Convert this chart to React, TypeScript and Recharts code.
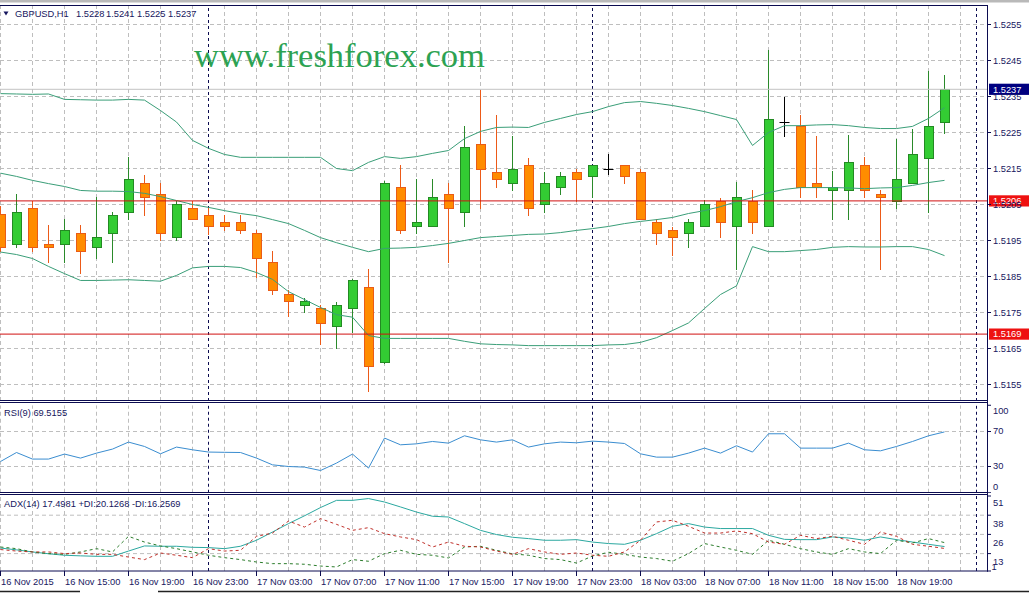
import React from 'react';
import { ComposedChart, Bar, Line, XAxis, YAxis, ReferenceLine } from 'recharts';

// ---------- data (GBPUSD H1, 16 Nov 2015 11:00 .. 18 Nov 2015 22:00) ----------
const OPEN = [1.52024, 1.51941, 1.52041, 1.51941, 1.51941, 1.51971, 1.51933, 1.51971, 1.52030, 1.52110,
  1.52080, 1.51960, 1.52041, 1.52021, 1.52002, 1.52002, 1.51971, 1.51891, 1.51802, 1.51771,
  1.51763, 1.51713, 1.51763, 1.51821, 1.51612, 1.52099, 1.51991, 1.51991, 1.52080, 1.52030,
  1.52219, 1.52141, 1.52110, 1.52160, 1.52052, 1.52099, 1.52141, 1.52130, 1.52148, 1.52160,
  1.52141, 1.52002, 1.51980, 1.51971, 1.51991, 1.52060, 1.51991, 1.52060, 1.51991, 1.52279,
  1.52269, 1.52110, 1.52089, 1.52089, 1.52160, 1.52080, 1.52060, 1.52110, 1.52180, 1.5228];
const HIGH = [1.52047, 1.52080, 1.52059, 1.51992, 1.52010, 1.51992, 1.52071, 1.52028, 1.52181, 1.52131,
  1.52110, 1.52059, 1.52059, 1.52041, 1.52021, 1.52021, 1.51980, 1.51921, 1.51813, 1.51791,
  1.51771, 1.51778, 1.51844, 1.51871, 1.52114, 1.52160, 1.52121, 1.52121, 1.52110, 1.52269,
  1.52369, 1.52299, 1.52241, 1.52180, 1.52141, 1.52141, 1.52149, 1.52160, 1.52191, 1.52160,
  1.52149, 1.52010, 1.51987, 1.52010, 1.52063, 1.52067, 1.52112, 1.52091, 1.52480, 1.52350,
  1.52299, 1.52241, 1.52142, 1.52242, 1.52181, 1.52091, 1.52233, 1.52260, 1.52420, 1.5241];
const LOW = [1.51920, 1.51932, 1.51920, 1.51890, 1.51890, 1.51859, 1.51901, 1.51890, 1.52010, 1.52021,
  1.51952, 1.51952, 1.52010, 1.51969, 1.51980, 1.51971, 1.51850, 1.51802, 1.51741, 1.51752,
  1.51663, 1.51652, 1.51695, 1.51531, 1.51611, 1.51971, 1.51971, 1.51991, 1.51891, 1.51991,
  1.52041, 1.52098, 1.52091, 1.52021, 1.52030, 1.52080, 1.52060, 1.52070, 1.52135, 1.52110,
  1.52010, 1.51941, 1.51909, 1.51933, 1.51991, 1.51959, 1.51871, 1.51971, 1.51991, 1.52240,
  1.52071, 1.52071, 1.52010, 1.52010, 1.52071, 1.51871, 1.52041, 1.52110, 1.52030, 1.5225];
const CLOSE = [1.51932, 1.52030, 1.51932, 1.51932, 1.51980, 1.51921, 1.51960, 1.52021, 1.52121, 1.52072,
  1.51971, 1.52052, 1.52010, 1.51991, 1.51991, 1.51980, 1.51902, 1.51813, 1.51783, 1.51783,
  1.51721, 1.51771, 1.51841, 1.51602, 1.52110, 1.51980, 1.52002, 1.52071, 1.52041, 1.52211,
  1.52149, 1.52121, 1.52149, 1.52041, 1.52110, 1.52130, 1.52121, 1.52160, 1.52148, 1.52130,
  1.52010, 1.51971, 1.51960, 1.52002, 1.52052, 1.52002, 1.52071, 1.52002, 1.52288, 1.52279,
  1.52099, 1.52098, 1.52098, 1.52169, 1.52091, 1.52071, 1.52121, 1.52191, 1.52269, 1.5237];

const BB_UPPER = [1.52358, 1.52357, 1.52356, 1.52357, 1.52342, 1.52341, 1.52340, 1.52340, 1.52342, 1.52340,
  1.52311, 1.52279, 1.52228, 1.52206, 1.52189, 1.52181, 1.52181, 1.52181, 1.52181, 1.52181,
  1.52181, 1.52150, 1.52144, 1.52167, 1.52183, 1.52178, 1.52183, 1.52192, 1.52200, 1.52233,
  1.52253, 1.52264, 1.52265, 1.52264, 1.52278, 1.52289, 1.52300, 1.52308, 1.52322, 1.52333,
  1.52336, 1.52331, 1.52325, 1.52317, 1.52308, 1.52297, 1.52286, 1.52214, 1.52250, 1.52269,
  1.52269, 1.52271, 1.52272, 1.52269, 1.52264, 1.52261, 1.52261, 1.52267, 1.52289, 1.52319];
const BB_MIDDLE = [1.52137, 1.52128, 1.52117, 1.52108, 1.52100, 1.52089, 1.52087, 1.52087, 1.52086, 1.52081,
  1.52072, 1.52061, 1.52050, 1.52042, 1.52033, 1.52025, 1.52019, 1.52008, 1.51997, 1.51978,
  1.51958, 1.51944, 1.51931, 1.51919, 1.51928, 1.51929, 1.51931, 1.51936, 1.51942, 1.51950,
  1.51958, 1.51961, 1.51964, 1.51967, 1.51968, 1.51972, 1.51978, 1.51983, 1.51989, 1.51997,
  1.52003, 1.52008, 1.52014, 1.52025, 1.52033, 1.52044, 1.52058, 1.52069, 1.52083, 1.52092,
  1.52097, 1.52097, 1.52097, 1.52096, 1.52094, 1.52096, 1.52097, 1.52103, 1.52111, 1.52117];
const BB_LOWER = [1.51918, 1.51911, 1.51900, 1.51878, 1.51858, 1.51839, 1.51839, 1.51840, 1.51841, 1.51839,
  1.51837, 1.51853, 1.51874, 1.51878, 1.51878, 1.51875, 1.51861, 1.51842, 1.51808, 1.51786,
  1.51764, 1.51744, 1.51737, 1.51686, 1.51678, 1.51678, 1.51678, 1.51678, 1.51678, 1.51670,
  1.51663, 1.51661, 1.51660, 1.51658, 1.51658, 1.51658, 1.51658, 1.51658, 1.51660, 1.51661,
  1.51667, 1.51680, 1.51700, 1.51721, 1.51761, 1.51800, 1.51824, 1.51933, 1.51919, 1.51919,
  1.51922, 1.51925, 1.51931, 1.51933, 1.51932, 1.51932, 1.51933, 1.51933, 1.51925, 1.51908];

const RSI = [35.7, 46.0, 38.5, 38.5, 44.2, 39.6, 45.3, 49.9, 57.9, 52.9,
  44.5, 52.2, 49.1, 46.5, 46.2, 46.0, 39.6, 31.9, 30.0, 29.3,
  25.4, 33.9, 44.2, 28.2, 62.5, 54.8, 55.9, 58.6, 56.7, 65.1,
  60.5, 57.9, 60.5, 52.2, 55.9, 57.9, 57.1, 59.0, 57.9, 56.3,
  44.5, 40.7, 40.7, 45.3, 51.0, 45.3, 53.7, 46.5, 67.4, 67.4,
  51.0, 51.0, 51.0, 56.7, 49.1, 47.9, 52.9, 58.6, 65.1, 69.52];

const ADX = [16.5, 15.3, 13.9, 12.7, 11.7, 11.3, 11.0, 11.0, 14.5, 17.9,
  17.7, 17.7, 17.0, 16.8, 16.1, 17.7, 21.7, 27.2, 32.8, 38.0,
  43.5, 48.3, 48.3, 49.5, 47.2, 43.9, 40.5, 37.7, 37.2, 32.8,
  28.3, 25.5, 23.7, 22.8, 21.7, 21.7, 22.1, 20.5, 19.5, 19.0,
  21.7, 26.1, 31.0, 32.8, 30.5, 29.5, 29.5, 29.5, 25.0, 22.3,
  22.1, 22.1, 23.9, 23.2, 21.7, 23.9, 22.1, 20.5, 19.0, 17.50];
const PLUS_DI = [17.2, 16.1, 13.9, 12.8, 12.3, 13.9, 16.1, 13.9, 24.3, 20.5,
  17.9, 16.1, 13.9, 11.7, 10.1, 8.8, 7.2, 6.1, 6.1, 5.7,
  4.5, 3.9, 8.8, 7.7, 12.8, 15.0, 12.3, 11.7, 9.9, 17.2,
  17.7, 15.0, 12.6, 11.7, 9.5, 8.8, 6.5, 11.2, 13.7, 12.3,
  10.5, 9.5, 7.7, 12.8, 19.5, 17.2, 15.0, 12.3, 21.7, 19.0,
  16.1, 13.9, 12.3, 16.1, 13.9, 12.8, 21.7, 19.9, 22.8, 20.13];
const MINUS_DI = [15.5, 14.5, 13.9, 13.9, 12.8, 13.2, 12.3, 12.3, 10.5, 8.8,
  13.2, 11.7, 10.1, 16.1, 14.5, 15.0, 24.3, 26.5, 34.5, 30.5,
  36.1, 32.3, 28.3, 30.1, 26.1, 23.9, 22.1, 17.2, 20.5, 17.7,
  17.2, 14.5, 12.3, 16.1, 13.9, 12.3, 13.2, 11.7, 11.0, 13.9,
  21.7, 33.9, 35.0, 31.0, 26.5, 26.5, 27.9, 26.1, 20.5, 19.0,
  25.0, 22.8, 24.3, 21.7, 19.0, 27.2, 24.3, 19.0, 17.7, 16.26];

const X_LABELS = ['16 Nov 2015', '16 Nov 15:00', '16 Nov 19:00', '16 Nov 23:00', '17 Nov 03:00',
  '17 Nov 07:00', '17 Nov 11:00', '17 Nov 15:00', '17 Nov 19:00', '17 Nov 23:00', '18 Nov 03:00',
  '18 Nov 07:00', '18 Nov 11:00', '18 Nov 15:00', '18 Nov 19:00'];
const GRID_X = [0, 2, 4, 6, 8, 10, 12, 14, 16, 18, 20, 22, 24, 26, 28, 30, 32, 34, 36, 38, 40,
  42, 44, 46, 48, 50, 52, 54, 56, 58, 60];
const PRICE_TICKS = [1.5155, 1.5165, 1.5175, 1.5185, 1.5195, 1.5205, 1.5215, 1.5225, 1.5235, 1.5245, 1.5255];
const RSI_TICKS = [0, 30, 70, 100];
const RSI_LEVELS = [30, 70];
const ADX_TICKS = [1.2, 12.8, 25.6, 38.4, 51.2];
const ADX_LEVELS = [12.8, 25.6, 38.4];
const DAY_BREAKS = [13, 37, 61];
const LAST_PRICE = 1.5237;
const LEVEL_HIGH = 1.5206;
const LEVEL_LOW = 1.5169;
const TITLE_PARTS = ['GBPUSD,H1', '1.5228', '1.5241', '1.5225', '1.5237'];

const data = OPEN.map((o, i) => ({
  i,
  open: o, high: HIGH[i], low: LOW[i], close: CLOSE[i],
  range: [LOW[i], HIGH[i]],
  bbUp: BB_UPPER[i], bbMid: BB_MIDDLE[i], bbLow: BB_LOWER[i],
  rsi: RSI[i], adx: ADX[i], pdi: PLUS_DI[i], mdi: MINUS_DI[i],
}));

// ---------- styling ----------
const FONT = '"Liberation Sans", Arial, sans-serif';
const FS = 9.3;
const NAVY = '#16165e';
const FRAME = '#0b0b50';
const GRID = '#bebebe';
const GRID_DASH = '4 3';
const W = 1029;
const X_DOMAIN: [number, number] = [-1 / 32, 987 / 16 - 1 / 32];
const PRICE_DOMAIN: [number, number] = [1.5150417, 1.5260417];
const RSI_DOMAIN: [number, number] = [0, 100];
const ADX_DOMAIN: [number, number] = [1.2, 51.2];
const BAND = '#3a9e78';
const TITLE_X = [15, 76, 106, 137, 168];

const Candle = (props: any) => {
  const { x, y, width, height, payload } = props;
  if (x == null || !payload) return null;
  const { open, close, high, low } = payload;
  const top = Math.min(y, y + height);
  const bot = Math.max(y, y + height);
  const py = (p: number) => top + ((high - p) / (high - low)) * (bot - top);
  const cx = Math.floor(x + width / 2) + 0.5;
  const doji = open === close;
  const bull = close > open;
  const wick = doji ? '#000000' : bull ? '#2a8a2a' : '#ec5a18';
  const yo = py(open);
  const yc = py(close);
  const bt = Math.round(Math.min(yo, yc)) + 0.5;
  const bb = Math.round(Math.max(yo, yc)) + 0.5;
  return (
    <g>
      <line x1={cx} x2={cx} y1={Math.round(top)} y2={Math.round(bot) + 1} stroke={wick} strokeWidth={1} />
      {doji ? (
        <line x1={cx - 5} x2={cx + 5} y1={bt} y2={bt} stroke="#000000" strokeWidth={1} />
      ) : (
        <rect x={cx - 4} y={bt} width={9} height={Math.max(bb - bt, 1)}
          fill={bull ? '#33cc33' : '#ff8c00'} stroke={bull ? '#238a23' : '#ea5c16'} strokeWidth={1} />
      )}
    </g>
  );
};

const priceBox = (text: string, fill: string) => (props: any) => {
  const vb = props.viewBox || {};
  const right = (vb.x || 0) + (vb.width || 0);
  const yy = vb.y || 0;
  return (
    <g>
      <rect x={right + 2} y={yy - 5.6} width={41} height={11.2} fill={fill} />
      <text x={right + 6} y={yy} dy="0.36em" fill="#ffffff" fontSize={FS} fontFamily={FONT}>{text}</text>
    </g>
  );
};

const RsiTick = (p: any) => {
  const v = p.payload.value;
  const off = v === 100 ? 5.2 : v === 0 ? -6.3 : -0.6;
  return (
    <text x={p.x} y={p.y + off} dy="0.36em" textAnchor="start" fill={NAVY} fontSize={FS} fontFamily={FONT}>{v}</text>
  );
};

const AdxTick = (p: any) => {
  const v = p.payload.value;
  const isTop = v > 50;
  const isBottom = v < 2;
  const off = isTop ? 6.6 : isBottom ? -4.4 : 8;
  return (
    <text x={p.x + (isBottom ? -1.5 : 0)} y={p.y + off} dy="0.36em" textAnchor="start" fill={NAVY} fontSize={FS} fontFamily={FONT}>
      {Math.round(v)}
    </text>
  );
};

const TimeTick = (p: any) => {
  const v = p.payload.value;
  if (v % 4 !== 0) return null;
  const label = X_LABELS[v / 4];
  if (!label) return null;
  const xx = Math.floor(p.x) + 0.5;
  return (
    <g>
      <line x1={xx} x2={xx} y1={p.y} y2={p.y + 5} stroke={FRAME} />
      <text x={xx + 0.5} y={p.y + 10.5} dy="0.36em" textAnchor="start" fill={NAVY} fontSize={FS} fontFamily={FONT}>{label}</text>
    </g>
  );
};

// background layer: grid + period separators, drawn beneath the data layer
const GridLayer = ({ height, top, bottom, domain, levels }: any) => (
  <ComposedChart width={W} height={height} data={data} margin={{ top, right: 42, bottom, left: 0 }}>
    <XAxis dataKey="i" type="number" domain={X_DOMAIN} allowDataOverflow hide />
    <YAxis type="number" domain={domain} allowDataOverflow hide />
    {GRID_X.map((g) => (
      <ReferenceLine key={'vg' + g} x={g} stroke={GRID} strokeWidth={1} strokeDasharray={GRID_DASH} ifOverflow="hidden" />
    ))}
    {levels.map((l: number) => (
      <ReferenceLine key={'hg' + l} y={l} stroke={GRID} strokeWidth={1} strokeDasharray={GRID_DASH} ifOverflow="hidden" />
    ))}
    {DAY_BREAKS.map((d) => (
      <ReferenceLine key={'ds' + d} x={d} stroke={FRAME} strokeDasharray="3 3" ifOverflow="hidden" />
    ))}
  </ComposedChart>
);

const layer = (top: number): React.CSSProperties => ({ position: 'absolute', left: 0, top });

export default function App() {
  return (
    <div style={{ position: 'absolute', left: 0, top: 0, width: W, height: 593, background: '#ffffff', overflow: 'hidden' }}>
      {/* grid layers */}
      <div style={layer(0)}>
        <GridLayer height={401} top={5} bottom={0} domain={PRICE_DOMAIN} levels={PRICE_TICKS} />
      </div>
      <div style={layer(403)}>
        <GridLayer height={90} top={2.25} bottom={0.25} domain={RSI_DOMAIN} levels={RSI_LEVELS} />
      </div>
      <div style={layer(494)}>
        <GridLayer height={99} top={2} bottom={22} domain={ADX_DOMAIN} levels={ADX_LEVELS} />
      </div>

      {/* main price panel */}
      <div style={layer(0)}>
        <ComposedChart width={W} height={401} data={data} margin={{ top: 5, right: 0, bottom: 0, left: 0 }}>
          <XAxis dataKey="i" type="number" domain={X_DOMAIN} allowDataOverflow hide />
          <YAxis orientation="right" width={42} domain={PRICE_DOMAIN} ticks={PRICE_TICKS} allowDataOverflow
            interval={0} tickFormatter={(v: number) => v.toFixed(4)} tickSize={4} tickMargin={2}
            axisLine={false} tickLine={{ stroke: FRAME }}
            tick={{ fill: NAVY, fontSize: FS, fontFamily: FONT }} />
          <Bar dataKey="range" barSize={10} shape={<Candle />} isAnimationActive={false} />
          <Line dataKey="bbUp" stroke={BAND} strokeWidth={1} dot={false} activeDot={false} isAnimationActive={false} />
          <Line dataKey="bbMid" stroke={BAND} strokeWidth={1} dot={false} activeDot={false} isAnimationActive={false} />
          <Line dataKey="bbLow" stroke={BAND} strokeWidth={1} dot={false} activeDot={false} isAnimationActive={false} />
          <ReferenceLine y={LAST_PRICE} stroke="#c4c4c4" label={priceBox('1.5237', '#000080')} />
          <ReferenceLine y={LEVEL_HIGH} stroke="#d01010" label={priceBox('1.5206', '#ee1111')} />
          <ReferenceLine y={LEVEL_LOW} stroke="#d01010" label={priceBox('1.5169', '#ee1111')} />
        </ComposedChart>
      </div>

      {/* RSI panel */}
      <div style={layer(403)}>
        <ComposedChart width={W} height={90} data={data} margin={{ top: 2.25, right: 0, bottom: 0.25, left: 0 }}>
          <XAxis dataKey="i" type="number" domain={X_DOMAIN} allowDataOverflow hide />
          <YAxis orientation="right" width={42} domain={RSI_DOMAIN} ticks={RSI_TICKS} interval={0}
            tickSize={4} tickMargin={2} axisLine={false} tickLine={{ stroke: FRAME }} tick={<RsiTick />} />
          <Line dataKey="rsi" stroke="#3a8dd0" strokeWidth={1} dot={false} activeDot={false} isAnimationActive={false} />
        </ComposedChart>
      </div>

      {/* ADX panel + time axis */}
      <div style={layer(494)}>
        <ComposedChart width={W} height={99} data={data} margin={{ top: 2, right: 0, bottom: 0, left: 0 }}>
          <XAxis dataKey="i" type="number" domain={X_DOMAIN} ticks={GRID_X} allowDataOverflow interval={0}
            height={22} tickSize={0} tickMargin={0} axisLine={false} tickLine={false} tick={<TimeTick />} />
          <YAxis orientation="right" width={42} domain={ADX_DOMAIN} ticks={ADX_TICKS} interval={0}
            allowDataOverflow tickSize={4} tickMargin={2} axisLine={false} tickLine={{ stroke: FRAME }} tick={<AdxTick />} />
          <Line dataKey="adx" stroke="#2ba8a0" strokeWidth={1} dot={false} activeDot={false} isAnimationActive={false} />
          <Line dataKey="pdi" stroke="#2c7d2c" strokeWidth={1} strokeDasharray="3 3" dot={false} activeDot={false} isAnimationActive={false} />
          <Line dataKey="mdi" stroke="#c0302a" strokeWidth={1} strokeDasharray="3 3" dot={false} activeDot={false} isAnimationActive={false} />
        </ComposedChart>
      </div>

      {/* frame, titles and watermark */}
      <svg width={W} height={593} style={{ position: 'absolute', left: 0, top: 0, pointerEvents: 'none' }}>
        <rect x={0} y={0} width={W} height={2.5} fill="#b9b9b9" />
        <line x1={0} x2={988} y1={5.5} y2={5.5} stroke={FRAME} />
        <line x1={0} x2={988} y1={400.5} y2={400.5} stroke={FRAME} />
        <line x1={0} x2={988} y1={402.5} y2={402.5} stroke={FRAME} />
        <line x1={0} x2={988} y1={492.5} y2={492.5} stroke={FRAME} />
        <line x1={0} x2={988} y1={494.5} y2={494.5} stroke={FRAME} />
        <line x1={0} x2={988} y1={571} y2={571} stroke={FRAME} />
        <line x1={987.5} x2={987.5} y1={5} y2={571.5} stroke={FRAME} />
        <line x1={0} x2={80} y1={591.5} y2={591.5} stroke="#222222" strokeWidth={1.5} />
        <line x1={158} x2={W} y1={591.5} y2={591.5} stroke="#222222" strokeWidth={1.5} />
        <polygon points="3.5,11.5 8.5,11.5 6,15.5" fill={NAVY} />
        {TITLE_PARTS.map((t, k) => (
          <text key={t + k} x={TITLE_X[k]} y={13.5} dy="0.36em" fill={NAVY} fontSize={FS} fontFamily={FONT}>{t}</text>
        ))}
        <text x={4} y={412.7} dy="0.36em" fill={NAVY} fontSize={FS} fontFamily={FONT}>RSI(9) 69.5155</text>
        <text x={4} y={503.3} dy="0.36em" fill={NAVY} fontSize={FS} fontFamily={FONT}>
          ADX(14) 17.4981 +DI:20.1268 -DI:16.2569
        </text>
        <text x={194} y={66.7} fill="#2ca252" fontSize={34.5} fontFamily={'"Liberation Serif", "Times New Roman", serif'}>
          www.freshforex.com
        </text>
      </svg>
    </div>
  );
}
